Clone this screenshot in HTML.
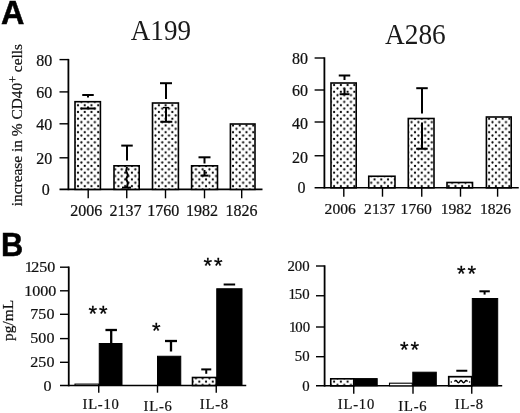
<!DOCTYPE html>
<html lang="en"><head><meta charset="utf-8"><title>Figure</title>
<style>
html,body{margin:0;padding:0;background:#fff;}
body{width:520px;height:413px;overflow:hidden;}
svg{display:block;}
.s{font-family:"Liberation Serif",serif;fill:#111;stroke:#111;stroke-width:0.22;}
.t{font-family:"Liberation Serif",serif;fill:#1a1a1a;}
.b{font-family:"Liberation Sans",sans-serif;font-weight:bold;fill:#000;stroke:#000;stroke-width:0.5;}
.st{font-family:"Liberation Sans",sans-serif;fill:#000;stroke:#000;stroke-width:0.3;letter-spacing:1.9px;}
.ax{stroke:#000;stroke-width:1.8;fill:none;stroke-linecap:butt;}
.eb{stroke:#000;stroke-width:2;fill:none;}
.eb2{stroke:#000;stroke-width:2.3;fill:none;}
.tk{stroke:#000;stroke-width:1.4;fill:none;}
.bl{stroke:#000;stroke-width:1.6;fill:none;}
.dot{fill:url(#dots);stroke:#000;stroke-width:1.6;}
.blk{fill:#000;stroke:#000;stroke-width:1;}
.wht2{fill:#fff;stroke:#000;stroke-width:1.7;}
.wht{fill:#fff;stroke:#000;stroke-width:1.1;}
</style></head><body>
<svg width="520" height="413" viewBox="0 0 520 413">
<defs>
<pattern id="dots" patternUnits="userSpaceOnUse" x="78" y="105.3" width="6.74" height="6.74">
<rect width="6.74" height="6.74" fill="#fff"/>
<circle cx="3.37" cy="3.37" r="1.12" fill="#000"/>
<circle cx="0" cy="0" r="1.12" fill="#000"/><circle cx="6.74" cy="0" r="1.12" fill="#000"/>
<circle cx="0" cy="6.74" r="1.12" fill="#000"/><circle cx="6.74" cy="6.74" r="1.12" fill="#000"/>
</pattern>
</defs>
<rect width="520" height="413" fill="#fff"/>

<text class="b" x="1.1" y="23.8" font-size="32.4" text-anchor="start">A</text>
<text class="b" transform="translate(0.9,255.6) scale(0.95,1)" font-size="32.4" text-anchor="start">B</text>
<text class="t" x="130.8" y="39.9" font-size="28.5" text-anchor="start" textLength="60.2" lengthAdjust="spacingAndGlyphs">A199</text>
<text class="t" x="385" y="43.6" font-size="28.5" text-anchor="start" textLength="60.8" lengthAdjust="spacingAndGlyphs">A286</text>
<line class="ax" x1="68.4" y1="58.9" x2="68.4" y2="190.2"/>
<line class="bl" x1="59.5" y1="189.4" x2="262.5" y2="189.4"/>
<line class="tk" x1="59.5" y1="59.6" x2="68.4" y2="59.6"/>
<text class="s" x="52.3" y="65.51" font-size="16" text-anchor="end">80</text>
<line class="tk" x1="59.5" y1="91.9" x2="68.4" y2="91.9"/>
<text class="s" x="52.3" y="97.81" font-size="16" text-anchor="end">60</text>
<line class="tk" x1="59.5" y1="123.8" x2="68.4" y2="123.8"/>
<text class="s" x="52.3" y="129.71" font-size="16" text-anchor="end">40</text>
<line class="tk" x1="59.5" y1="157.8" x2="68.4" y2="157.8"/>
<text class="s" x="52.3" y="163.71" font-size="16" text-anchor="end">20</text>
<text class="s" x="49.8" y="195.31" font-size="16" text-anchor="end">0</text>
<line class="tk" x1="88.2" y1="189.4" x2="88.2" y2="198.3"/>
<text class="s" x="86.3" y="216" font-size="16" text-anchor="middle">2006</text>
<line class="tk" x1="126.75" y1="189.4" x2="126.75" y2="198.3"/>
<text class="s" x="125.6" y="216" font-size="16" text-anchor="middle">2137</text>
<line class="tk" x1="165.5" y1="189.4" x2="165.5" y2="198.3"/>
<text class="s" x="163.2" y="216" font-size="16" text-anchor="middle">1760</text>
<line class="tk" x1="204.5" y1="189.4" x2="204.5" y2="198.3"/>
<text class="s" x="202.1" y="216" font-size="16" text-anchor="middle">1982</text>
<line class="tk" x1="241.7" y1="189.4" x2="241.7" y2="198.3"/>
<text class="s" x="241.5" y="216" font-size="16" text-anchor="middle">1826</text>
<rect class="dot" x="75" y="101.7" width="25.4" height="87.7"/>
<rect class="dot" x="114" y="165.8" width="25.2" height="23.6"/>
<rect class="dot" x="152.5" y="103" width="25.9" height="86.4"/>
<rect class="dot" x="191.6" y="165.8" width="25.9" height="23.6"/>
<rect class="dot" x="230.4" y="124" width="24.6" height="65.4"/>
<line class="eb" x1="82.25" y1="95" x2="93.75" y2="95"/>
<line class="eb" x1="88" y1="95" x2="88" y2="97.5"/>
<line class="eb" x1="80.5" y1="108.5" x2="95.5" y2="108.5"/>
<line class="eb" x1="88" y1="106.5" x2="88" y2="108.5"/>
<line class="eb" x1="121.25" y1="145.6" x2="132.75" y2="145.6"/>
<line class="eb" x1="127" y1="145.6" x2="127" y2="160.5"/>
<polyline class="eb" points="127,167 126.2,171 127.8,175 126.3,179 127.8,183 126.8,188"/>
<line class="eb" x1="122" y1="187.6" x2="131" y2="187.6"/>
<line class="eb" x1="160.0" y1="83.2" x2="172.0" y2="83.2"/>
<line class="eb" x1="166" y1="83.2" x2="166" y2="99"/>
<line class="eb" x1="166" y1="108" x2="166" y2="121.8"/>
<line class="eb" x1="160.3" y1="121.8" x2="172.3" y2="121.8"/>
<line class="tk" x1="163" y1="107.6" x2="169" y2="107.6"/>
<line class="eb" x1="198.5" y1="157.3" x2="210.5" y2="157.3"/>
<line class="eb" x1="204.5" y1="157.3" x2="204.5" y2="163.5"/>
<line class="eb" x1="200.5" y1="175.6" x2="208.5" y2="175.6"/>
<line class="eb" x1="204.5" y1="170" x2="204.5" y2="175.6"/>
<line class="ax" x1="324.4" y1="57.3" x2="324.4" y2="188.6"/>
<line class="bl" x1="314.6" y1="187.8" x2="518.75" y2="187.8"/>
<line class="tk" x1="314.6" y1="58" x2="324.4" y2="58"/>
<text class="s" x="308" y="63.71" font-size="16" text-anchor="end">80</text>
<line class="tk" x1="314.6" y1="90" x2="324.4" y2="90"/>
<text class="s" x="308" y="95.71" font-size="16" text-anchor="end">60</text>
<line class="tk" x1="314.6" y1="122" x2="324.4" y2="122"/>
<text class="s" x="308" y="128.91" font-size="16" text-anchor="end">40</text>
<line class="tk" x1="314.6" y1="155.75" x2="324.4" y2="155.75"/>
<text class="s" x="308" y="162.86" font-size="16" text-anchor="end">20</text>
<text class="s" x="305.5" y="193.21" font-size="16" text-anchor="end">0</text>
<line class="tk" x1="343.8" y1="187.8" x2="343.8" y2="196.7"/>
<text class="s" x="340.2" y="214" font-size="15.6" text-anchor="middle">2006</text>
<line class="tk" x1="382.5" y1="187.8" x2="382.5" y2="196.7"/>
<text class="s" x="379.7" y="214" font-size="15.6" text-anchor="middle">2137</text>
<line class="tk" x1="421.75" y1="187.8" x2="421.75" y2="196.7"/>
<text class="s" x="416.2" y="214" font-size="15.6" text-anchor="middle">1760</text>
<line class="tk" x1="460.5" y1="187.8" x2="460.5" y2="196.7"/>
<text class="s" x="456.3" y="214" font-size="15.6" text-anchor="middle">1982</text>
<line class="tk" x1="497.6" y1="187.8" x2="497.6" y2="196.7"/>
<text class="s" x="495.5" y="214" font-size="15.6" text-anchor="middle">1826</text>
<rect class="dot" x="331" y="83" width="25.2" height="104.8"/>
<rect class="dot" x="368.75" y="176.25" width="26.25" height="11.55"/>
<rect class="dot" x="408.3" y="118.5" width="25.7" height="69.3"/>
<rect class="dot" x="447" y="182.5" width="25.5" height="5.3"/>
<rect class="dot" x="486.4" y="117" width="24.8" height="70.8"/>
<line class="eb" x1="338.75" y1="75.5" x2="350.25" y2="75.5"/>
<line class="eb" x1="344.5" y1="75.5" x2="344.5" y2="80"/>
<line class="eb" x1="339.6" y1="94.2" x2="349.5" y2="94.2"/>
<line class="eb" x1="344.5" y1="88.5" x2="344.5" y2="94.2"/>
<line class="eb" x1="416.25" y1="88.2" x2="427.75" y2="88.2"/>
<line class="eb" x1="422" y1="88.2" x2="422" y2="113.5"/>
<line class="eb" x1="422" y1="122.5" x2="422" y2="148.75"/>
<line class="eb" x1="416.2" y1="148.75" x2="427.7" y2="148.75"/>
<line class="ax" x1="68.75" y1="266.5" x2="68.75" y2="386.3"/>
<line class="bl" x1="60" y1="385.5" x2="246.25" y2="385.5"/>
<line class="tk" x1="60" y1="267.2" x2="68.75" y2="267.2"/>
<text class="s" transform="translate(55.3,272.07) scale(1.07,1)" font-size="15" text-anchor="end">1<tspan dx="-1.3">250</tspan></text>
<line class="tk" x1="60" y1="290.8" x2="68.75" y2="290.8"/>
<text class="s" transform="translate(56.2,296.07) scale(1.07,1)" font-size="15" text-anchor="end">1000</text>
<line class="tk" x1="60" y1="314.3" x2="68.75" y2="314.3"/>
<text class="s" transform="translate(54.4,319.37) scale(1.07,1)" font-size="15" text-anchor="end">750</text>
<line class="tk" x1="60" y1="338.6" x2="68.75" y2="338.6"/>
<text class="s" transform="translate(54.4,343.37) scale(1.07,1)" font-size="15" text-anchor="end">500</text>
<line class="tk" x1="60" y1="362.3" x2="68.75" y2="362.3"/>
<text class="s" transform="translate(54.4,367.37) scale(1.07,1)" font-size="15" text-anchor="end">250</text>
<text class="s" transform="translate(51.4,390.57) scale(1.07,1)" font-size="15" text-anchor="end">0</text>
<rect class="wht" x="75" y="384.1" width="23.75" height="1.4"/>
<rect class="blk" x="99.25" y="343.5" width="22.75" height="42.0"/>
<rect class="blk" x="157.5" y="356.25" width="23.25" height="29.25"/>
<rect class="dot" x="192.5" y="377.5" width="23.75" height="8.0"/>
<rect class="blk" x="216.75" y="288.75" width="25.25" height="96.75"/>
<line class="tk" x1="98.75" y1="385.5" x2="98.75" y2="392.7"/>
<line class="tk" x1="157.5" y1="385.5" x2="157.5" y2="392.7"/>
<line class="tk" x1="216.25" y1="385.5" x2="216.25" y2="392.7"/>
<line class="eb2" x1="105.45" y1="330" x2="116.95" y2="330"/>
<line class="eb2" x1="111.2" y1="330" x2="111.2" y2="343"/>
<line class="eb2" x1="165.0" y1="341" x2="177.0" y2="341"/>
<line class="eb2" x1="171" y1="341" x2="171" y2="351.5"/>
<line class="eb" x1="201.25" y1="369.4" x2="211.25" y2="369.4"/>
<line class="eb" x1="206.25" y1="369.4" x2="206.25" y2="373.8"/>
<line class="eb" x1="223.65" y1="284.5" x2="235.15" y2="284.5"/>
<line class="eb" x1="229.4" y1="284.5" x2="229.4" y2="284.5"/>
<text class="s" x="101.1" y="408.7" font-size="14.6" text-anchor="middle" letter-spacing="0.8">IL-10</text>
<text class="s" x="158.1" y="410.7" font-size="14.6" text-anchor="middle" letter-spacing="0.8">IL-6</text>
<text class="s" x="214.4" y="408.7" font-size="14.6" text-anchor="middle" letter-spacing="0.8">IL-8</text>
<text class="st" x="99" y="320.9" font-size="22" text-anchor="middle">**</text>
<text class="st" x="157.3" y="338.4" font-size="22" text-anchor="middle">*</text>
<text class="st" x="214" y="273.4" font-size="22" text-anchor="middle">**</text>
<line class="ax" x1="324.6" y1="265.3" x2="324.6" y2="386.6"/>
<line class="bl" x1="316" y1="385.8" x2="502.2" y2="385.8"/>
<line class="tk" x1="316" y1="266" x2="324.6" y2="266"/>
<text class="s" x="309.6" y="270.5" font-size="14.8" text-anchor="end">200</text>
<line class="tk" x1="316" y1="295.75" x2="324.6" y2="295.75"/>
<text class="s" x="309.6" y="299.35" font-size="14.8" text-anchor="end">1<tspan dx="-1">50</tspan></text>
<line class="tk" x1="316" y1="327" x2="324.6" y2="327"/>
<text class="s" x="310.1" y="332.0" font-size="14.8" text-anchor="end">1<tspan dx="-1">00</tspan></text>
<line class="tk" x1="316" y1="356.7" x2="324.6" y2="356.7"/>
<text class="s" x="309.6" y="361.4" font-size="14.8" text-anchor="end">50</text>
<text class="s" x="309.6" y="390.8" font-size="14.8" text-anchor="end">0</text>
<rect class="dot" x="330.75" y="378.8" width="23.0" height="7.0"/>
<rect class="blk" x="354.25" y="378.6" width="22.95" height="7.2"/>
<rect class="wht" x="389.5" y="383.2" width="22.8" height="2.6"/>
<rect class="blk" x="412.8" y="372.2" width="23.5" height="13.6"/>
<rect class="wht2" x="448.75" y="376.7" width="23.0" height="9.1"/>
<path class="tk" d="M454.5,381.6 q1.3,-2.2 2.6,0 t2.6,0 t2.6,0 t2.6,0 t2.6,0"/>
<circle cx="451.3" cy="382" r="0.8"/><circle cx="469.6" cy="382" r="0.8"/>
<rect class="blk" x="472.3" y="298.5" width="25.4" height="87.3"/>
<line class="tk" x1="353.75" y1="385.8" x2="353.75" y2="393.8"/>
<line class="tk" x1="413" y1="385.8" x2="413" y2="393.8"/>
<line class="tk" x1="471.75" y1="385.8" x2="471.75" y2="393.8"/>
<line class="eb" x1="456.3" y1="370.75" x2="467.3" y2="370.75"/>
<line class="eb" x1="461.8" y1="370.75" x2="461.8" y2="370.75"/>
<line class="eb" x1="479.4" y1="291.3" x2="489.8" y2="291.3"/>
<line class="eb" x1="484.6" y1="291.3" x2="484.6" y2="294.6"/>
<text class="s" x="356.4" y="408.6" font-size="14.6" text-anchor="middle" letter-spacing="0.8">IL-10</text>
<text class="s" x="412.9" y="410.7" font-size="14.6" text-anchor="middle" letter-spacing="0.8">IL-6</text>
<text class="s" x="469.4" y="408.6" font-size="14.6" text-anchor="middle" letter-spacing="0.8">IL-8</text>
<text class="st" x="410.5" y="357.3" font-size="22" text-anchor="middle">**</text>
<text class="st" x="467.5" y="281.3" font-size="22" text-anchor="middle">**</text>
<text class="s" font-size="15.4" text-anchor="start" transform="translate(21.6,206.3) rotate(-90)">increase in % CD40<tspan dy="-4.6" font-size="12">+</tspan><tspan dy="4.6"> cells</tspan></text>
<text class="s" font-size="15.4" text-anchor="start" transform="translate(13,341) rotate(-90)">pg/mL</text>
</svg>
</body></html>
